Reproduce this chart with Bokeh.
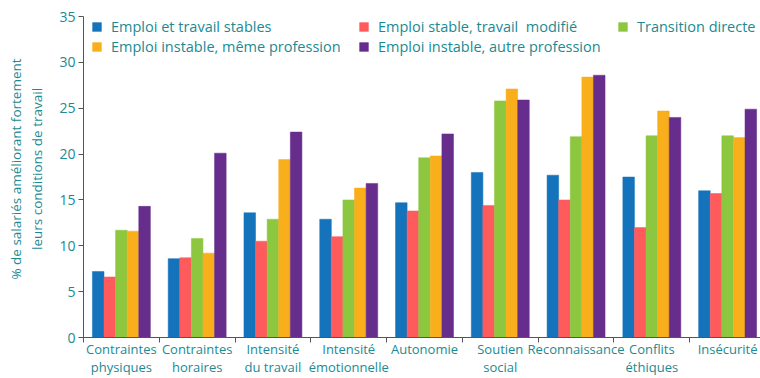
import numpy as np
from bokeh.plotting import figure
from bokeh.models import Range1d, FixedTicker, Legend, LegendItem, ColumnDataSource
from bokeh.embed import file_html
from bokeh.resources import INLINE

# ---- data ----
categories = ["Contraintes\nphysiques", "Contraintes\nhoraires", "Intensité\ndu travail",
              "Intensité\némotionnelle", "Autonomie", "Soutien\nsocial",
              "Reconnaissance", "Conflits\néthiques", "Insécurité"]
series_names = ["Emploi et travail stables", "Emploi stable, travail  modifié",
                "Transition directe", "Emploi instable, même profession",
                "Emploi instable, autre profession"]
stables = [7.2, 8.6, 13.6, 12.9, 14.7, 18.0, 17.7, 17.5, 16.0]
modifie = [6.6, 8.7, 10.5, 11.0, 13.8, 14.4, 15.0, 12.0, 15.7]
transition = [11.7, 10.8, 12.9, 15.0, 19.6, 25.8, 21.9, 22.0, 22.0]
meme_prof = [11.6, 9.2, 19.4, 16.3, 19.8, 27.1, 28.4, 24.7, 21.8]
autre_prof = [14.3, 20.1, 22.4, 16.8, 22.2, 25.9, 28.6, 24.0, 24.9]
y_ticks = [0, 5, 10, 15, 20, 25, 30, 35]
y_title = "% de salariés améliorant fortement\nleurs conditions de travail"

series = [stables, modifie, transition, meme_prof, autre_prof]
colors = ["#1473BA", "#FF5A5C", "#8DC63F", "#F9AE1B", "#662D8D"]
TEAL = "#1A8A93"
AXIS = "#555555"
FONT = "Open Sans"

n = len(categories)
centers = np.arange(n) + 0.5
bar_w = 0.153
offsets = (np.arange(len(series)) - (len(series) - 1) / 2) * bar_w

FRAME_BOTTOM = 337  # pixel row of the frame bottom (as laid out by Bokeh)

p = figure(width=760, height=378, output_backend="svg", toolbar_location=None,
           x_range=Range1d(0, n - 0.066), y_range=Range1d(0, 36.75),
           min_border_left=83, min_border_right=0, min_border_top=0,
           min_border_bottom=30)
p.xgrid.visible = False
p.ygrid.visible = False
p.outline_line_color = None
p.background_fill_color = "white"
p.border_fill_color = "white"

renderers = []
for vals, off, col in zip(series, offsets, colors):
    src = ColumnDataSource(dict(x=centers + off, top=vals))
    r = p.vbar(x="x", top="top", width=bar_w, bottom=0, source=src,
               fill_color=col, line_color=col, line_width=0.5)
    renderers.append(r)

# x axis: labels at centers, ticks at boundaries (minor ticks)
xa = p.xaxis[0]
xa.ticker = FixedTicker(ticks=list(centers), minor_ticks=list(range(n + 1)))
xa.major_label_overrides = {float(c): lab for c, lab in zip(centers, categories)}
xa.major_tick_out = 0
xa.major_tick_in = 0
xa.minor_tick_out = 5
xa.minor_tick_in = 0
xa.minor_tick_line_color = AXIS
xa.axis_line_color = AXIS
xa.major_label_text_font = FONT
xa.major_label_text_font_size = "13px"
xa.major_label_text_color = TEAL
xa.major_label_text_line_height = 1.0
xa.major_label_standoff = -3

ya = p.yaxis[0]
ya.ticker = FixedTicker(ticks=y_ticks)
ya.bounds = (0, 35)
ya.major_tick_out = 5
ya.major_tick_in = 0
ya.minor_tick_out = 0
ya.minor_tick_in = 0
ya.major_tick_line_color = AXIS
ya.axis_line_color = AXIS
ya.major_label_text_font = FONT
ya.major_label_text_font_size = "14px"
ya.major_label_text_color = TEAL
ya.major_label_standoff = 3
ya.axis_label = y_title
ya.axis_label_text_font = FONT
ya.axis_label_text_font_size = "13.5px"
ya.axis_label_text_font_style = "normal"
ya.axis_label_text_color = TEAL
ya.axis_label_standoff = 10

# legends: three columns placed individually
groups = [[0, 3], [1, 4], [2]]
xpos = [8, 275, 534]
LABEL_H, SPACING, TOP = 20, 0, 16
for g, xp in zip(groups, xpos):
    items = [LegendItem(label=series_names[i], renderers=[renderers[i]]) for i in g]
    h = len(g) * LABEL_H + (len(g) - 1) * SPACING
    lg = Legend(items=items, orientation="vertical",
                location=(xp, FRAME_BOTTOM - TOP - h))
    lg.label_text_font = FONT
    lg.label_text_font_size = "14.5px"
    lg.label_text_color = TEAL
    lg.glyph_width = 11
    lg.glyph_height = 11
    lg.label_height = LABEL_H
    lg.label_standoff = 9
    lg.spacing = SPACING
    lg.padding = 0
    lg.margin = 0
    lg.border_line_alpha = 0
    lg.background_fill_alpha = 0
    p.add_layout(lg)

open("out.html", "w").write(file_html(p, INLINE))
